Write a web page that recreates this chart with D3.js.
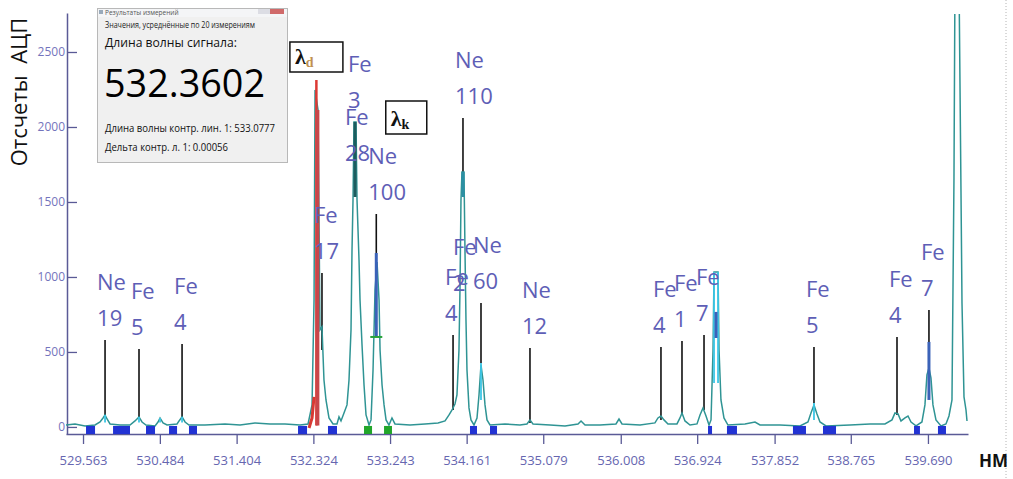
<!DOCTYPE html>
<html><head><meta charset="utf-8">
<script src="https://cdn.jsdelivr.net/npm/d3@7"></script>
<style>
html,body{margin:0;padding:0;background:#fff;}
svg{display:block;font-family:"Open Sans","Noto Sans",sans-serif;}
</style></head>
<body>
<svg id="chart" width="1013" height="479"></svg>
<script>
// ---------- data ----------
const xTickValues = [529.563, 530.484, 531.404, 532.324, 533.243, 534.161, 535.079, 536.008, 536.924, 537.852, 538.765, 539.690];
const yTickValues = [0, 500, 1000, 1500, 2000, 2500];

const specNm = [529.359,529.467,529.587,529.707,529.767,529.803,529.827,529.851,529.887,530.006,
530.126,530.186,530.234,530.270,530.318,530.426,530.462,530.486,530.522,530.570,
530.690,530.714,530.750,530.786,530.833,531.025,531.265,531.445,531.624,531.804,
531.984,532.164,532.260,532.308,532.332,532.344,532.380,532.403,532.427,532.451,
532.475,532.511,532.559,532.607,532.631,532.655,532.691,532.727,532.751,532.775,
532.787,532.799,532.811,532.835,532.847,532.871,532.883,532.907,532.931,532.955,
532.991,533.015,533.039,533.063,533.087,533.111,533.123,533.147,533.171,533.195,
533.230,533.266,533.302,533.482,533.662,533.818,533.902,533.950,533.986,534.021,
534.045,534.069,534.081,534.093,534.105,534.129,534.141,534.153,534.165,534.189,
534.213,534.249,534.285,534.309,534.333,534.357,534.381,534.405,534.441,534.621,
534.800,534.884,534.920,534.956,535.160,535.340,535.496,535.532,535.580,535.759,
535.951,535.987,536.023,536.239,536.418,536.454,536.490,536.526,536.574,536.682,
536.718,536.742,536.778,536.838,536.922,536.958,536.994,537.030,537.066,537.090,
537.114,537.126,537.174,537.186,537.209,537.245,537.293,537.497,537.617,537.677,
537.917,538.156,538.252,538.288,538.324,538.360,538.396,538.468,538.756,538.995,
539.175,539.259,539.295,539.331,539.367,539.415,539.451,539.487,539.547,539.618,
539.654,539.678,539.702,539.726,539.750,539.786,539.846,539.906,539.942,539.978,
540.002,540.014,540.062,540.086,540.098,540.122,540.146,540.158];
const specCounts = [13,20,7,13,33,60,80,53,20,13,
13,40,67,33,13,7,33,60,27,13,
20,40,67,33,13,13,20,13,27,20,
20,13,20,147,847,2247,2113,647,667,313,
180,60,20,20,67,40,93,147,313,647,
1180,1513,2033,2033,1513,1113,847,547,280,80,
13,47,380,913,1100,847,513,280,147,47,
13,60,20,13,20,27,40,80,113,153,
213,513,913,1513,1700,1700,1180,713,380,127,
47,13,60,213,413,313,147,47,13,20,
13,20,47,20,13,7,20,40,13,13,
20,53,20,13,27,60,73,47,20,20,
60,93,40,13,20,80,127,73,13,47,
513,1033,1033,513,180,60,13,20,33,13,
13,7,33,93,147,87,33,7,13,20,
20,47,93,87,40,60,73,33,7,33,
147,347,393,327,147,47,7,20,73,180,
1660,3000,3000,1567,827,200,113,40];

// signal (red) line
const signalNm = [532.360, 532.375];
const signalTop = [2313, 2113];
const signalTailNm = [532.272, 532.308, 532.332];
const signalTailCounts = [-7, 60, 200];

// identified lines: element, ionisation number, wavelength, label top and line bottom (counts)
const labelElements = ['Ne','Fe','Fe','Fe','Fe','Fe','Ne','Fe','Fe','Ne','Ne','Ne','Fe','Fe','Fe','Fe','Fe','Fe'];
const labelNumbers  = ['19','5','4','17','3','28','100','4','2','110','60','12','4','1','7','5','4','7'];
const labelNm       = [529.827,530.234,530.750,532.427,532.835,532.799,533.078,533.998,534.093,534.117,534.333,534.920,536.490,536.742,537.006,538.324,539.319,539.702];
const labelTop      = [580,520,553,1027,2033,1680,1420,613,813,2060,827,527,533,573,613,533,600,780];
const labelBottom   = [80,60,60,513,2033,1680,1160,113,813,1700,427,27,47,80,113,160,80,567];

// highlighted peak segments [nm, from, to, kind]
const peakMarks = [
  [532.823, 2033, 1533, 'dark'],
  [533.078, 1160, 600, 'blue'],
  [534.117, 1700, 1533, 'teal'],
  [534.333, 427, 180, 'cyan'],
  [537.126, 1033, 293, 'cyan'],
  [537.174, 1033, 293, 'cyan'],
  [537.150, 767, 593, 'blue'],
  [538.324, 160, 47, 'cyan'],
  [539.702, 567, 180, 'blue'],
  [529.827, 80, 30, 'cyan'],
  [530.234, 67, 30, 'cyan'],
  [530.486, 60, 30, 'cyan'],
  [530.750, 67, 30, 'cyan']
];

// baseline regions [start nm, end nm, kind]
const regions = [
  [529.599,529.707,'blue'],[529.923,530.126,'blue'],[530.318,530.426,'blue'],
  [530.594,530.690,'blue'],[530.833,530.929,'blue'],[532.140,532.248,'blue'],
  [532.499,532.607,'blue'],[532.931,533.027,'green'],[533.171,533.266,'green'],
  [534.201,534.285,'blue'],[534.441,534.525,'blue'],[537.054,537.102,'blue'],
  [537.281,537.401,'blue'],[538.072,538.228,'blue'],[538.432,538.588,'blue'],
  [539.523,539.594,'blue'],[539.810,539.906,'blue']
];

// measurement result (dialog)
const resultTitle = 'Результаты измерений';
const averagedCount = 20;
const signalWavelength = 532.3602;
const controlWavelength = 533.0777;
const controlDelta = 0.00056;

// ---------- chart ----------
const svg = d3.select('#chart');
const x = d3.scaleLinear().domain([529.359, 540.170]).range([66, 968]);
const y = d3.scaleLinear().domain([-47, 2760]).range([434, 13]);

const markColor = {dark:'#1d5c5e', blue:'#3b62b8', teal:'#2c8fa4', cyan:'#3cc6e6'};
const regionColor = {blue:'#2233d4', green:'#22a62a'};

svg.append('defs').append('clipPath').attr('id','plotclip')
  .append('rect').attr('x',66).attr('y',14).attr('width',940).attr('height',430);

// right dotted border
svg.append('line').attr('x1',1006).attr('x2',1006).attr('y1',0).attr('y2',479)
  .attr('stroke','#b4b4b4').attr('stroke-width',1).attr('stroke-dasharray','1,2');

// y axis title
svg.append('text')
  .attr('transform','translate(27,92) rotate(-90)')
  .attr('text-anchor','middle')
  .attr('font-size',22)
  .attr('fill','#111')
  .style('white-space','pre')
  .text('Отсчеты  АЦП');

// axes
const yAxis = d3.axisLeft(y).tickValues(yTickValues).tickSize(-10).tickSizeOuter(0).tickPadding(2).tickFormat(d3.format('d'));
const gy = svg.append('g').attr('transform','translate(67,0)').call(yAxis);
gy.attr('font-family',null);
gy.select('.domain').attr('stroke','#5a5a96').attr('stroke-width',1.5);
gy.selectAll('.tick line').attr('stroke','#5a5a96').attr('stroke-width',1.3);
gy.selectAll('.tick text').attr('fill','#7474bc').attr('font-size',12);

const xAxis = d3.axisBottom(x).tickValues(xTickValues).tickSize(10).tickSizeOuter(0).tickPadding(12).tickFormat(d3.format('.3f'));
const gx = svg.append('g').attr('transform','translate(0,434)').call(xAxis);
gx.attr('font-family',null);
gx.select('.domain').attr('stroke','#5a5a96').attr('stroke-width',1.5);
gx.selectAll('.tick line').attr('stroke','#5a5a96').attr('stroke-width',1.3);
gx.selectAll('.tick text').attr('fill','#6666b0').attr('font-size',13);

svg.append('text').attr('x',979).attr('y',467).attr('font-size',17).attr('font-weight','bold')
  .attr('fill','#111').text('НМ');

const plot = svg.append('g').attr('clip-path','url(#plotclip)');

// black label lines
labelNm.forEach((nm,i)=>{
  if (labelTop[i] === labelBottom[i]) return;
  plot.append('line').attr('x1',x(nm)).attr('x2',x(nm))
    .attr('y1',y(labelTop[i])).attr('y2',y(labelBottom[i]))
    .attr('stroke','#111').attr('stroke-width',1.6);
});

// spectrum
const spec = specNm.map((d,i)=>[d, specCounts[i]]);
plot.append('path').datum(spec)
  .attr('fill','none').attr('stroke','#2f9494').attr('stroke-width',1.5)
  .attr('d', d3.line().x(d=>x(d[0])).y(d=>y(d[1])));

// highlighted peak segments
peakMarks.forEach(m=>{
  plot.append('line').attr('x1',x(m[0])).attr('x2',x(m[0]))
    .attr('y1',y(m[1])).attr('y2',y(m[2]))
    .attr('stroke',markColor[m[3]]).attr('stroke-width', m[3]==='cyan'?1.8:3);
});
// control line tick
plot.append('line').attr('x1',x(533.078)-6).attr('x2',x(533.078)+6)
  .attr('y1',y(600)).attr('y2',y(600)).attr('stroke','#2aa33a').attr('stroke-width',2);

// baseline regions
regions.forEach(r=>{
  plot.append('rect').attr('x',x(r[0])).attr('y',y(0)-1)
    .attr('width',x(r[1])-x(r[0])).attr('height',y(-47)-y(0)+1)
    .attr('fill',regionColor[r[2]]);
});

// signal (red)
plot.append('path').datum(signalTailNm.map((d,i)=>[d,signalTailCounts[i]]))
  .attr('fill','none').attr('stroke','#d83a34').attr('stroke-width',3)
  .attr('d', d3.line().x(d=>x(d[0])).y(d=>y(d[1])));
plot.append('line').attr('x1',x(signalNm[0])).attr('x2',x(signalNm[0]))
  .attr('y1',y(signalTop[0])).attr('y2',y(10)).attr('stroke','#dc3a34').attr('stroke-width',2.5);
plot.append('line').attr('x1',x(signalNm[1])).attr('x2',x(signalNm[1]))
  .attr('y1',y(signalTop[1])).attr('y2',y(10)).attr('stroke','#c8464a').attr('stroke-width',3.5);

// labels
const lab = svg.append('g').attr('fill','#5e5eb6').attr('font-size',22);
labelNm.forEach((nm,i)=>{
  const xx = x(nm) - 8, t = y(labelTop[i]);
  lab.append('text').attr('x',xx).attr('y',t-50).text(labelElements[i]);
  lab.append('text').attr('x',xx).attr('y',t-14).text(labelNumbers[i]);
});

// lambda boxes
function lambdaBox(cx, top, w, h, sub, subColor){
  const g = svg.append('g');
  g.append('rect').attr('x',cx-w/2).attr('y',top).attr('width',w).attr('height',h)
    .attr('fill','#fff').attr('stroke','#111').attr('stroke-width',1.5);
  const t = g.append('text').attr('x',cx-w/2+5).attr('y',top+h-8)
    .style('font-family','"Liberation Serif","DejaVu Serif",serif').attr('font-weight','bold').attr('font-size',22).attr('fill','#111');
  t.append('tspan').text('λ');
  t.append('tspan').attr('font-size',14).attr('dy',3).attr('fill',subColor).text(sub);
}
lambdaBox(x(signalWavelength), 42, 53, 30, 'd', '#c09050');
lambdaBox(x(controlWavelength)+30, 101, 41, 33, 'k', '#111');

// dialog inset
const dlg = svg.append('g');
dlg.append('rect').attr('x',97.5).attr('y',8.5).attr('width',190).attr('height',154)
  .attr('fill','#f0f0f0').attr('stroke','#b8b8b8');
dlg.append('rect').attr('x',98).attr('y',9).attr('width',189).attr('height',8).attr('fill','#f4f5f7');
dlg.append('rect').attr('x',99).attr('y',10).attr('width',4).attr('height',4).attr('fill','#9ab');
dlg.append('text').attr('x',105).attr('y',15).attr('font-size',6.5).attr('fill','#555').text(resultTitle);
dlg.append('rect').attr('x',258).attr('y',9).attr('width',12).attr('height',5).attr('fill','#dcdde4');
dlg.append('rect').attr('x',270).attr('y',9).attr('width',14).attr('height',5).attr('fill','#d06a6a');
dlg.append('text').attr('x',105).attr('y',28).attr('font-size',8.5).attr('fill','#222')
  .attr('textLength',150).attr('lengthAdjust','spacingAndGlyphs')
  .text('Значения, усреднённые по ' + averagedCount + ' измерениям');
dlg.append('text').attr('x',105).attr('y',47).attr('font-size',12.5).attr('fill','#111')
  .attr('textLength',132).attr('lengthAdjust','spacingAndGlyphs')
  .text('Длина волны сигнала:');
dlg.append('text').attr('x',104).attr('y',97).attr('font-size',39).attr('fill','#000')
  .attr('textLength',161).attr('lengthAdjust','spacingAndGlyphs')
  .text(signalWavelength.toFixed(4));
dlg.append('text').attr('x',105).attr('y',132).attr('font-size',11).attr('fill','#111')
  .attr('textLength',170).attr('lengthAdjust','spacingAndGlyphs')
  .text('Длина волны контр. лин. 1: ' + controlWavelength.toFixed(4));
dlg.append('text').attr('x',105).attr('y',151).attr('font-size',11).attr('fill','#111')
  .attr('textLength',123).attr('lengthAdjust','spacingAndGlyphs')
  .text('Дельта контр. л. 1: ' + controlDelta.toFixed(5));
</script>
</body></html>
